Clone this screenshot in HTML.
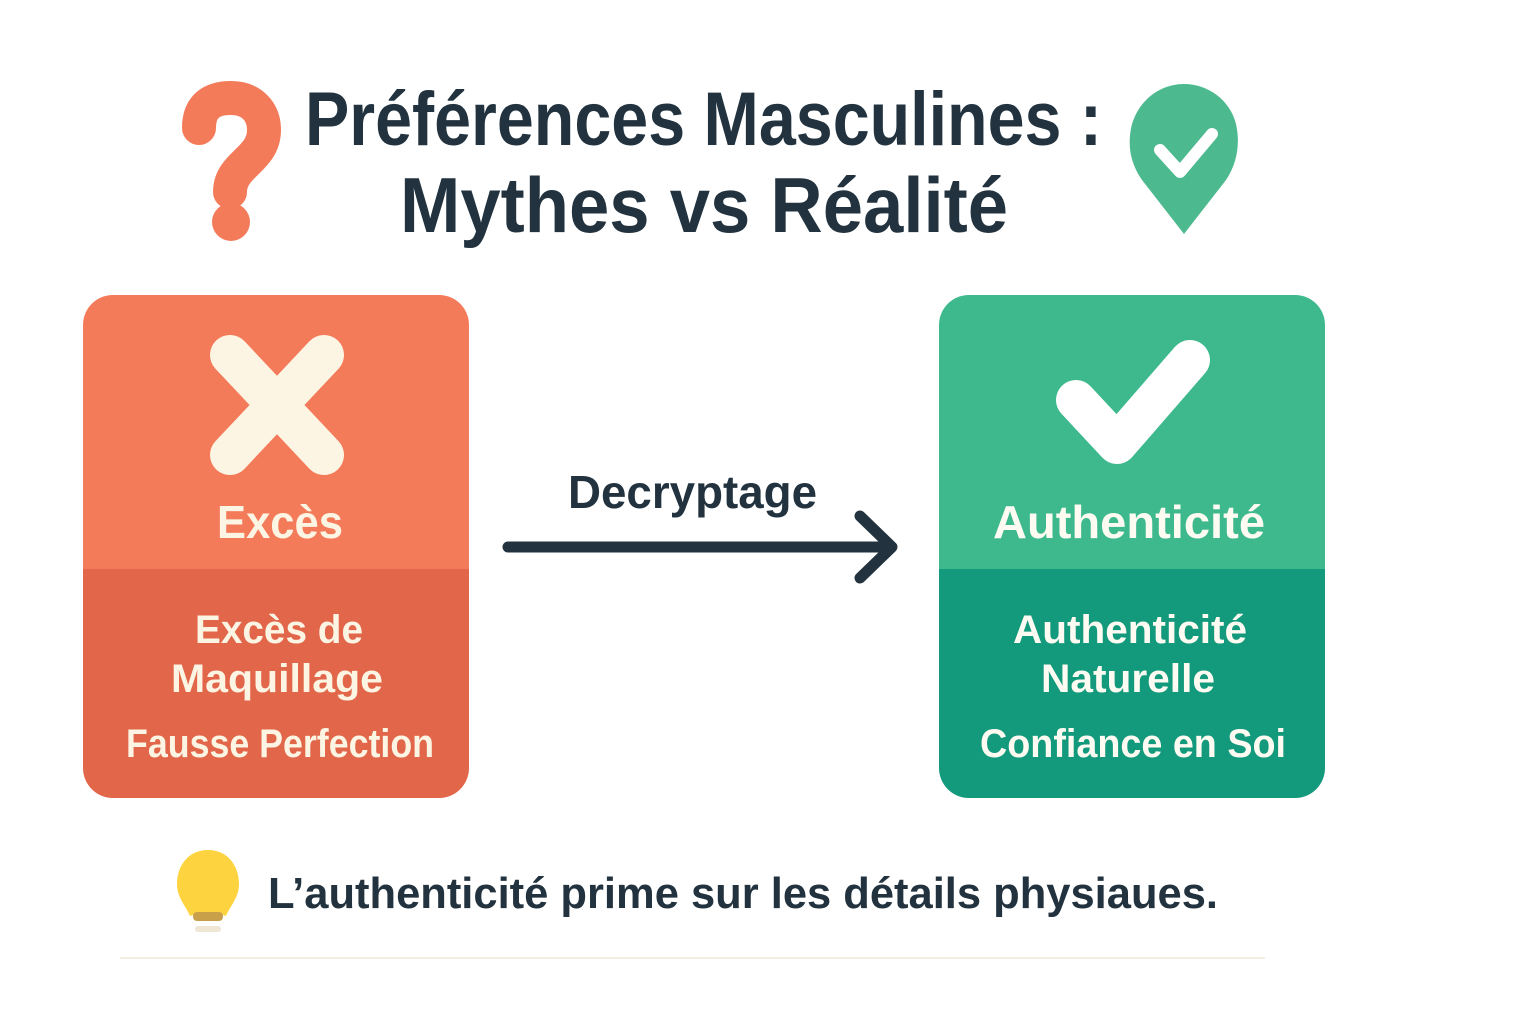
<!DOCTYPE html>
<html><head><meta charset="utf-8"><style>
html,body{margin:0;padding:0;background:#fff;width:1536px;height:1024px;overflow:hidden}
text{font-family:"Liberation Sans",sans-serif;font-weight:bold}
</style></head><body>
<svg width="1536" height="1024" viewBox="0 0 1536 1024" xmlns="http://www.w3.org/2000/svg">
<defs>
<clipPath id="cl"><rect x="83" y="295" width="386" height="503" rx="30"/></clipPath>
<clipPath id="cr"><rect x="939" y="295" width="386" height="503" rx="30"/></clipPath>
</defs>
<!-- question mark -->
<path d="M199 128 C199 106 212 98 231 98 C252 98 264 112 264 130 C264 160 230 164 230 192" fill="none" stroke="#F47B5A" stroke-width="34" stroke-linecap="round"/>
<circle cx="231" cy="222" r="19" fill="#F47B5A"/>
<!-- title -->
<text x="305" y="145" font-size="76" fill="#22333f" textLength="797" lengthAdjust="spacingAndGlyphs">Préférences Masculines :</text>
<text x="400" y="232" font-size="78" fill="#22333f" textLength="608" lengthAdjust="spacingAndGlyphs">Mythes vs Réalité</text>
<!-- pin -->
<path d="M1184 234 L1142 180 C1128 160 1128 140 1132 124 C1140 98 1162 84 1184 84 C1208 84 1230 100 1236 124 C1240 142 1238 162 1226 180 Z" fill="#4CB98F"/>
<polyline points="1160,150 1180,172 1212,134" fill="none" stroke="#fff" stroke-width="12" stroke-linecap="round" stroke-linejoin="round"/>
<!-- left box -->
<g clip-path="url(#cl)">
<rect x="83" y="295" width="386" height="274" fill="#F47B5A"/>
<rect x="83" y="569" width="386" height="229" fill="#E2664A"/>
</g>
<g stroke="#FDF5E4" stroke-width="40" stroke-linecap="round">
<line x1="230" y1="355" x2="324" y2="455"/><line x1="324" y1="355" x2="230" y2="455"/>
</g>
<g fill="#FDF5E4" text-anchor="middle">
<text x="280" y="538" font-size="46" textLength="126" lengthAdjust="spacingAndGlyphs">Excès</text>
<text x="279" y="643" font-size="40" textLength="168" lengthAdjust="spacingAndGlyphs">Excès de</text>
<text x="277" y="692" font-size="40" textLength="212" lengthAdjust="spacingAndGlyphs">Maquillage</text>
<text x="280" y="757" font-size="40" textLength="308" lengthAdjust="spacingAndGlyphs">Fausse Perfection</text>
</g>
<!-- right box -->
<g clip-path="url(#cr)">
<rect x="939" y="295" width="386" height="274" fill="#3DB98D"/>
<rect x="939" y="569" width="386" height="229" fill="#13997C"/>
</g>
<polyline points="1076,400 1117,444 1190,360" fill="none" stroke="#fff" stroke-width="40" stroke-linecap="round" stroke-linejoin="round"/>
<g fill="#FDFBF2" text-anchor="middle">
<text x="1129" y="538" font-size="46" textLength="272" lengthAdjust="spacingAndGlyphs">Authenticité</text>
<text x="1130" y="643" font-size="40" textLength="234" lengthAdjust="spacingAndGlyphs">Authenticité</text>
<text x="1128" y="692" font-size="40" textLength="174" lengthAdjust="spacingAndGlyphs">Naturelle</text>
<text x="1133" y="757" font-size="40" textLength="306" lengthAdjust="spacingAndGlyphs">Confiance en Soi</text>
</g>
<!-- arrow -->
<text x="568" y="508" font-size="46" fill="#22333f" textLength="249" lengthAdjust="spacingAndGlyphs">Decryptage</text>
<line x1="508" y1="547" x2="888" y2="547" stroke="#22333f" stroke-width="11" stroke-linecap="round"/>
<polyline points="860,516 892,547 860,578" fill="none" stroke="#22333f" stroke-width="11" stroke-linecap="round" stroke-linejoin="round"/>
<!-- bulb -->
<path d="M208 850 C188 850 177 866 177 884 C177 898 186 906 190 916 L196 914 L220 914 L226 916 C230 906 239 898 239 884 C239 866 228 850 208 850 Z" fill="#FDD440"/>
<rect x="193" y="912" width="30" height="9" rx="4" fill="#C8A04A"/>
<rect x="195" y="926" width="26" height="6" rx="3" fill="#efe6d6"/>
<text x="268" y="908" font-size="44" fill="#22333f" textLength="950" lengthAdjust="spacingAndGlyphs">L’authenticité prime sur les détails physiaues.</text>
<line x1="120" y1="958" x2="1265" y2="958" stroke="#f5ede2" stroke-width="2"/>
</svg>
</body></html>
